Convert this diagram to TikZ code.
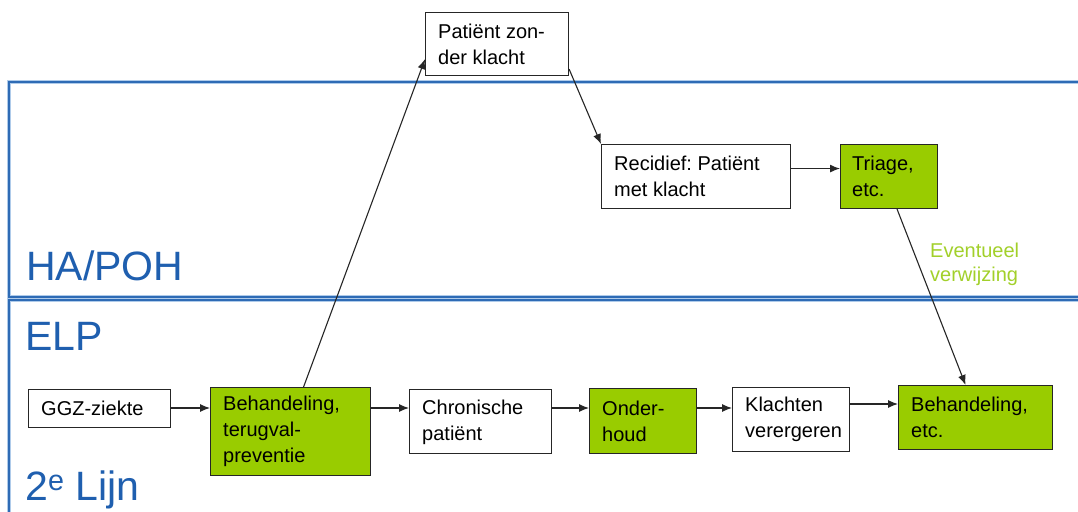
\documentclass[tikz,border=0pt]{standalone}
\usepackage{fontspec}
\setmainfont{Liberation Sans}
\usetikzlibrary{arrows.meta}
\definecolor{lgreen}{HTML}{99CC00}
\definecolor{egreen}{HTML}{A2D02A}
\definecolor{dblue}{HTML}{2E6BB5}
\definecolor{lblue}{HTML}{AFCBEA}
\definecolor{tblue}{HTML}{1F5FAF}
\frenchspacing
\begin{document}
\begin{tikzpicture}[x=1pt,y=-1pt,
 box/.style={draw=black!85, line width=1.1pt, inner sep=0pt, anchor=north west},
 gbox/.style={box, fill=lgreen},
 txt/.style={anchor=west, align=left, inner sep=0pt, font=\fontsize{20}{26}\selectfont},
 arr/.style={-{Latex[length=10pt,width=8pt]}, line width=1.1pt, draw=black!85},
 lane/.style={font=\fontsize{41}{41}\selectfont, text=tblue, anchor=base west, inner sep=0pt},
 frameL/.style={draw=lblue, line width=4.5pt},
 frameD/.style={draw=dblue, line width=2pt}]
\useasboundingbox (0,0) rectangle (1078,511);
\clip (0,0) rectangle (1078,511);
\fill[white] (0,0) rectangle (1078,511);
% lanes
\draw[frameL] (9,82) rectangle (1110,297);
\draw[frameL] (9,300) rectangle (1110,540);
\draw[frameD] (9,82) rectangle (1110,297);
\draw[frameD] (9,300) rectangle (1110,540);
\node[lane] (hapoh) at (26,280) {HA/POH};
\node[lane] (elp) at (25,350) {ELP};
\node[lane] (lijn) at (25,500) {2\textsuperscript{e} Lijn};
% boxes
\node[box, minimum width=143pt, minimum height=63pt] (pz) at (425,12) {};
\node[txt] (pzt) at ([xshift=13pt]pz.west) {Patiënt zon-\\der klacht};
\node[box, minimum width=189pt, minimum height=64pt] (rec) at (601,144) {};
\node[txt] (rect) at ([xshift=13pt]rec.west) {Recidief: Patiënt\\met klacht};
\node[gbox, minimum width=97pt, minimum height=64pt] (tri) at (840,144) {};
\node[txt] (trit) at ([xshift=12pt]tri.west) {Triage,\\etc.};
\node[box, minimum width=142pt, minimum height=38pt] (ggz) at (28,389) {};
\node[txt] (ggzt) at ([xshift=13pt]ggz.west) {GGZ-ziekte};
\node[gbox, minimum width=160pt, minimum height=88pt] (beh) at (210,387) {};
\node[txt] (beht) at ([xshift=13pt]beh.west) {Behandeling,\\terugval-\\preventie};
\node[box, minimum width=142pt, minimum height=64pt] (chr) at (409,389) {};
\node[txt] (chrt) at ([xshift=13pt,yshift=-1pt]chr.west) {Chronische\\patiënt};
\node[gbox, minimum width=107pt, minimum height=65pt] (ond) at (589,388) {};
\node[txt] (ondt) at ([xshift=13pt]ond.west) {Onder-\\houd};
\node[box, minimum width=117pt, minimum height=64pt] (kla) at (732,387) {};
\node[txt] (klat) at ([xshift=13pt]kla.west) {Klachten\\verergeren};
\node[gbox, minimum width=154pt, minimum height=64pt] (beh2) at (898,385) {};
\node[txt] (beh2t) at ([xshift=13pt]beh2.west) {Behandeling,\\etc.};
\node[anchor=north west, align=left, inner sep=0pt, text=egreen,
      font=\fontsize{20}{24}\selectfont] (ev) at (930,243) {Eventueel\\verwijzing};
% rows
\coordinate (row) at (0,408);
\coordinate (row2) at (0,404);
% connectors
\draw[arr] (ggz.east |- row) -- (beh.west |- row);
\draw[arr] (beh.east |- row) -- (chr.west |- row);
\draw[arr] (chr.east |- row) -- (ond.west |- row);
\draw[arr] (ond.east |- row) -- (kla.west |- row);
\draw[arr] (kla.east |- row2) -- (beh2.west |- row2);
\draw[arr] ([xshift=13pt]beh.north) -- ([yshift=17pt]pz.south west);
\draw[arr] ([yshift=7pt]pz.south east) -- (rec.north west);
\draw[arr] ([yshift=8pt]rec.east) -- ([yshift=8pt]tri.west);
\draw[arr] ([xshift=8pt]tri.south) -- ([xshift=-10pt]beh2.north);
\end{tikzpicture}
\end{document}
